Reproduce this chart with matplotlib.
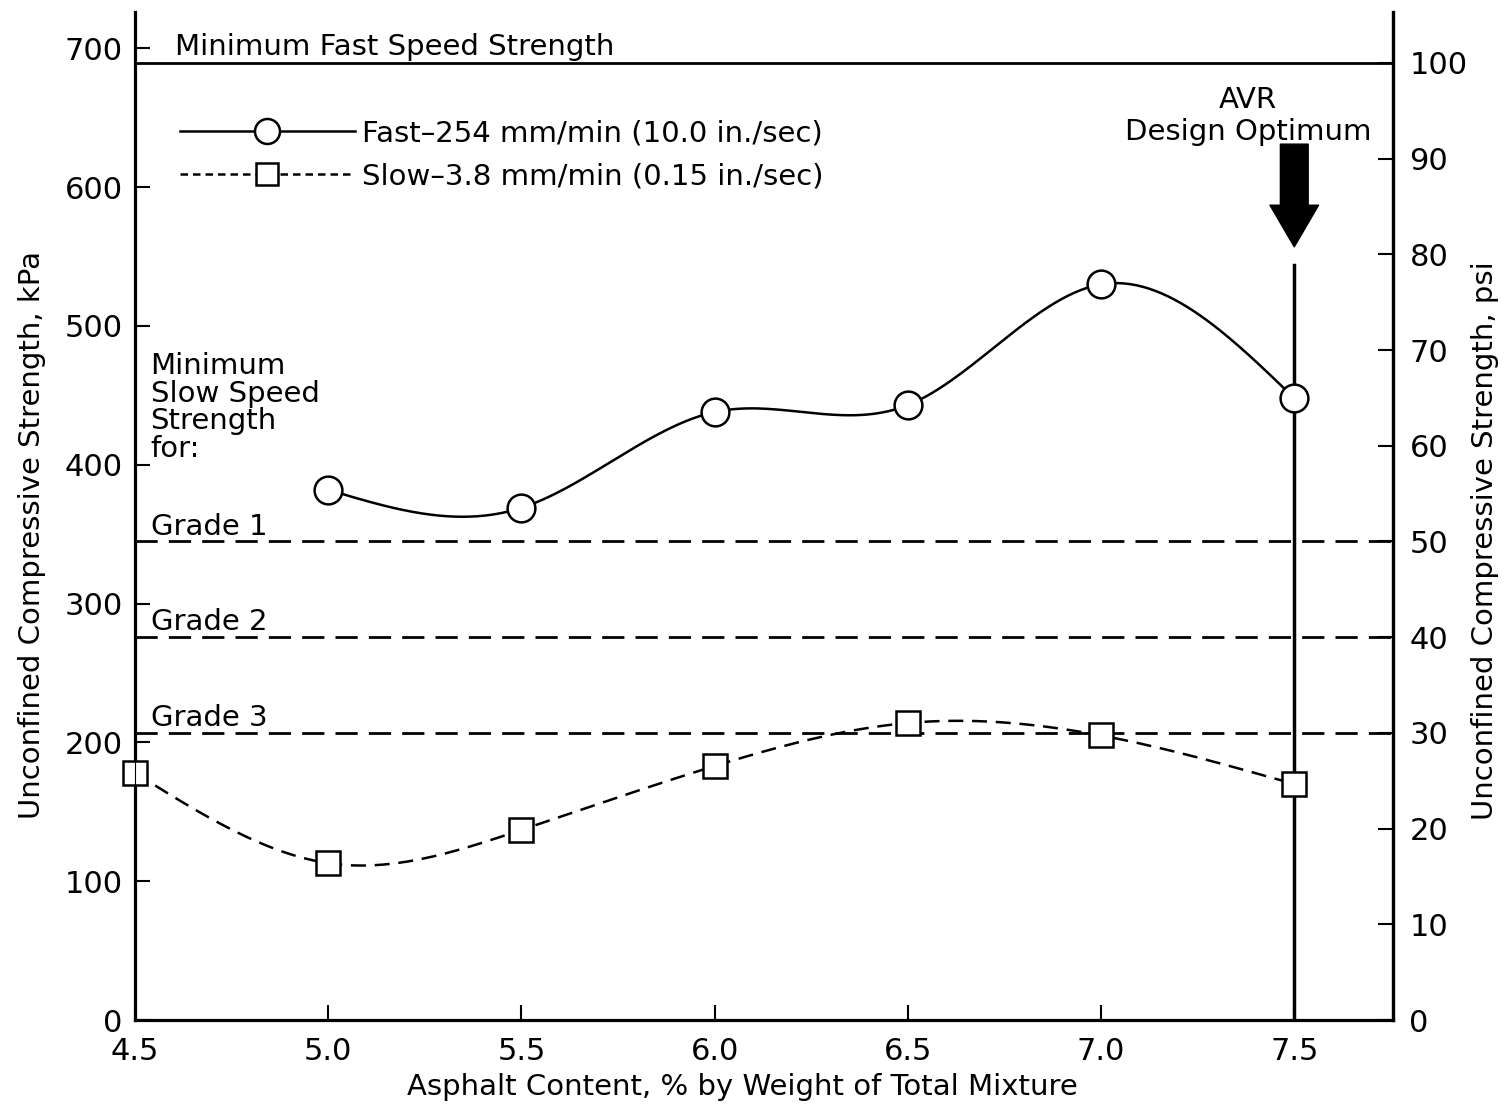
import numpy as np
import matplotlib.pyplot as plt
from matplotlib.lines import Line2D

# asphalt content, % by weight
asphalt_fast = [5.0, 5.5, 6.0, 6.5, 7.0, 7.5]
strength_fast = [382, 369, 438, 443, 530, 448]   # kPa

asphalt_slow = [4.5, 5.0, 5.5, 6.0, 6.5, 7.0, 7.5]
strength_slow = [178, 113, 137, 183, 214, 205, 170]  # kPa

min_fast_psi = 100
grade_psi = [50, 40, 30]
grade_names = ["Grade 1", "Grade 2", "Grade 3"]
avr_optimum = 7.5

KPA_PER_PSI = 6.894757
FS = 21


def natural_spline(x, y, n=300):
	# natural cubic spline through the points, for a smooth hand-drawn look
	x = np.asarray(x, float)
	y = np.asarray(y, float)
	k = len(x)
	h = np.diff(x)
	A = np.zeros((k, k))
	r = np.zeros(k)
	A[0, 0] = 1
	A[-1, -1] = 1
	for i in range(1, k - 1):
		A[i, i - 1] = h[i - 1]
		A[i, i] = 2 * (h[i - 1] + h[i])
		A[i, i + 1] = h[i]
		r[i] = 6 * ((y[i + 1] - y[i]) / h[i] - (y[i] - y[i - 1]) / h[i - 1])
	m = np.linalg.solve(A, r)
	xs = np.linspace(x[0], x[-1], n)
	idx = np.clip(np.searchsorted(x, xs) - 1, 0, k - 2)
	t0 = x[idx]
	t1 = x[idx + 1]
	hh = t1 - t0
	a = (t1 - xs) / hh
	b = (xs - t0) / hh
	ys = a * y[idx] + b * y[idx + 1] + ((a**3 - a) * m[idx] + (b**3 - b) * m[idx + 1]) * hh**2 / 6
	return xs, ys


plt.rcParams['font.family'] = ['DejaVu Sans']
fig = plt.figure(figsize=(15.09, 11.16), dpi=100)
ax = fig.add_axes([0.0895, 0.086, 0.8335, 0.903])

ax.set_xlim(4.5, 7.755)
ax.set_ylim(0, 726)

# reference lines
ax.axhline(min_fast_psi * KPA_PER_PSI, color='black', lw=2.0, zorder=2)
ax.text(4.603, min_fast_psi * KPA_PER_PSI + 6, "Minimum Fast Speed Strength", fontsize=FS, va='baseline', ha='left')
for g, name in zip(grade_psi, grade_names):
	ax.axhline(g * KPA_PER_PSI, color='black', lw=2.0, dashes=(8, 4), zorder=2)
	ax.text(4.54, g * KPA_PER_PSI + 5, name, fontsize=FS, va='baseline', ha='left')

ax.text(4.54, 481, "Minimum\nSlow Speed\nStrength\nfor:", fontsize=FS, va='top', ha='left', linespacing=0.98)

# AVR optimum marker
ax.plot([avr_optimum, avr_optimum], [0, 544], color='black', lw=2.5, zorder=2)
ax.annotate("", xy=(avr_optimum, 557), xytext=(avr_optimum, 631),
	arrowprops=dict(arrowstyle="simple,head_width=35,head_length=30,tail_width=20",
		mutation_scale=1, color='black', shrinkA=0, shrinkB=0))
ax.text(7.381, 657, "AVR", fontsize=FS, ha='center', va='baseline')
ax.text(7.381, 634, "Design Optimum", fontsize=FS, ha='center', va='baseline')

# curves
xs, ys = natural_spline(asphalt_fast, strength_fast)
ax.plot(xs, ys, color='black', lw=1.8, zorder=3)
ax.plot(asphalt_fast, strength_fast, 'o', ms=20, mfc='white', mec='black', mew=1.8, zorder=4, clip_on=False)

xs, ys = natural_spline(asphalt_slow, strength_slow)
ax.plot(xs, ys, color='black', lw=1.8, dashes=(6, 3.5), zorder=3)
ax.plot(asphalt_slow, strength_slow, 's', ms=17, mfc='white', mec='black', mew=1.8, zorder=4, clip_on=False)

handles = [
	Line2D([], [], color='black', lw=1.8, marker='o', ms=18, mfc='white', mec='black', mew=1.8),
	Line2D([], [], color='black', lw=1.8, dashes=(3, 2), marker='s', ms=16, mfc='white', mec='black', mew=1.8),
]
labels = ["Fast\u2013254 mm/min (10.0 in./sec)", "Slow\u20133.8 mm/min (0.15 in./sec)"]
ax.legend(handles, labels, loc='upper left', bbox_to_anchor=(0.024, 0.908), frameon=False,
	fontsize=FS, handlelength=6.0, numpoints=1, labelspacing=0.5, handletextpad=0.25, borderpad=0)

# axes styling
ax.spines['top'].set_visible(False)
for s in ['left', 'right', 'bottom']:
	ax.spines[s].set_linewidth(2.3)
ax.set_xticks([4.5, 5.0, 5.5, 6.0, 6.5, 7.0, 7.5])
ax.set_xticklabels(["4.5", "5.0", "5.5", "6.0", "6.5", "7.0", "7.5"])
ax.set_yticks(range(0, 701, 100))
ax.tick_params(direction='in', length=11, width=1.5, labelsize=22)
ax.tick_params(axis='x', pad=12)
ax.tick_params(axis='y', pad=9)
ax.set_xlabel("Asphalt Content, % by Weight of Total Mixture", fontsize=FS)
ax.set_ylabel("Unconfined Compressive Strength, kPa", fontsize=FS)
ax.xaxis.set_label_coords(0.4825, -0.053)
ax.yaxis.set_label_coords(-0.071, 0.481)

ax2 = ax.twinx()
ax2.set_ylim(0, 726 / KPA_PER_PSI)
ax2.set_yticks(range(0, 101, 10))
ax2.spines['top'].set_visible(False)
ax2.spines['right'].set_linewidth(2.3)
ax2.tick_params(direction='in', length=11, width=1.5, labelsize=22, pad=12)
ax2.set_ylabel("Unconfined Compressive Strength, psi", fontsize=FS)
ax2.yaxis.set_label_coords(1.062, 0.476)

fig.savefig("out.png", dpi=100)
